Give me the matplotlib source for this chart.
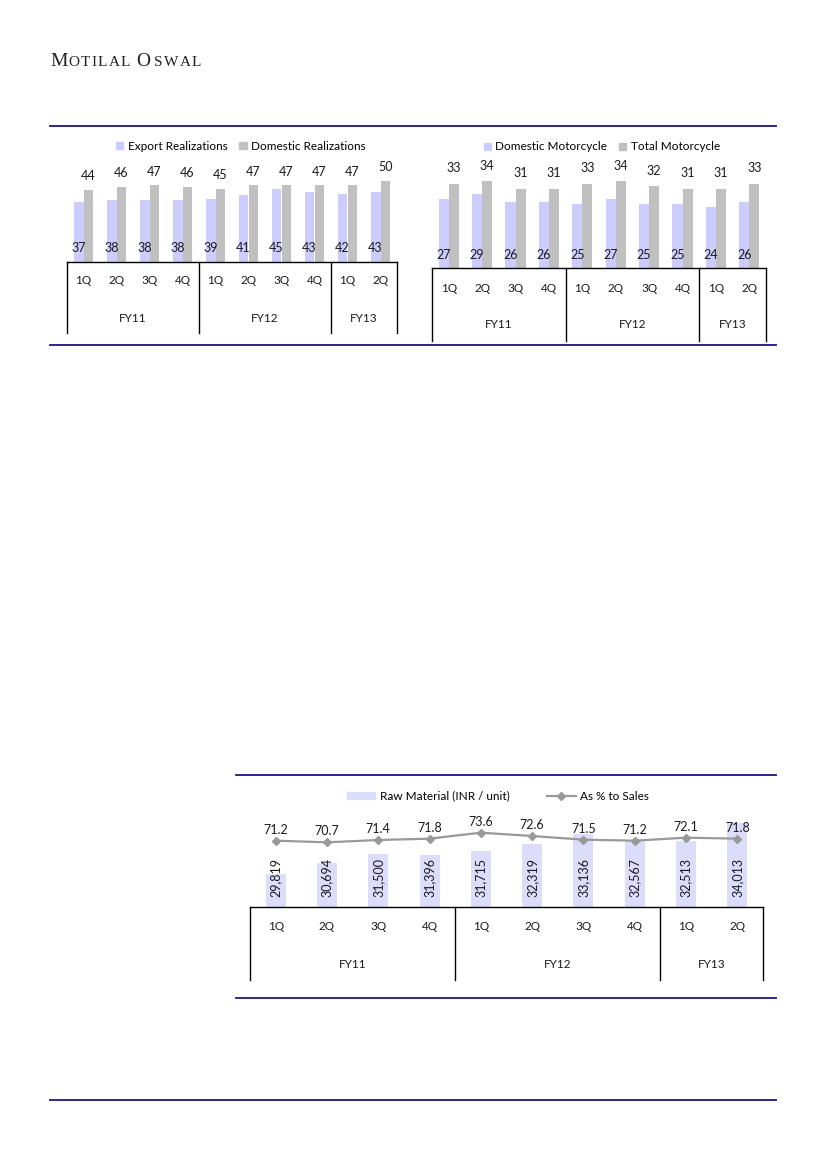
import matplotlib.pyplot as plt
from matplotlib.lines import Line2D
from matplotlib.patches import Patch

plt.rcParams['font.family'] = ['Lato', 'DejaVu Sans']

W, H = 826, 1169
NAVY = '#1c1480'
LAV = '#ccccff'
LAV3 = '#dcdcfb'
GRAY = '#c0c0c0'
TXT = '#1a1a1a'

quarters = ['1Q', '2Q', '3Q', '4Q', '1Q', '2Q', '3Q', '4Q', '1Q', '2Q']
years = ['FY11', 'FY12', 'FY13']
year_len = [4, 4, 2]

export_real = [37, 38, 38, 38, 39, 41, 45, 43, 42, 43]
domestic_real = [44, 46, 47, 46, 45, 47, 47, 47, 47, 50]

domestic_mc = [27, 29, 26, 26, 25, 27, 25, 25, 24, 26]
total_mc = [33, 34, 31, 31, 33, 34, 32, 31, 31, 33]

raw_material = [29819, 30694, 31500, 31396, 31715, 32319, 33136, 32567, 32513, 34013]
pct_sales = [71.2, 70.7, 71.4, 71.8, 73.6, 72.6, 71.5, 71.2, 72.1, 71.8]


def box(x0, y0, x1, y1):
    # pixel box (top-left origin) -> figure fraction rect
    return [x0 / W, 1 - y1 / H, (x1 - x0) / W, (y1 - y0) / H]


def hrule(y, x0, x1):
    fig.add_artist(Line2D([x0 / W, x1 / W], [1 - y / H, 1 - y / H], color=NAVY, lw=1.3))


def spaced(xpx, ypx, s, size, track):
    # letter-spaced text, measured char by char
    r = fig.canvas.get_renderer()
    for ch in s:
        t = fig.text(xpx / W, 1 - ypx / H, ch, fontsize=size, family='Liberation Serif',
                     color='#222', va='baseline')
        xpx += t.get_window_extent(r).width + track
    return xpx


def category_table(x0, x1, ybase, ybot, yq, yfy):
    ax = fig.add_axes(box(x0, ybase, x1, ybot))
    ax.set_xlim(-0.5, len(quarters) - 0.5)
    ax.set_ylim(ybot, ybase)
    ax.axis('off')
    ax.plot([-0.5, len(quarters) - 0.5], [ybase, ybase], color='black', lw=1, clip_on=False)
    start = -0.5
    ax.plot([start, start], [ybase, ybot], color='black', lw=1, clip_on=False)
    for yr, n in zip(years, year_len):
        ax.plot([start + n, start + n], [ybase, ybot], color='black', lw=1, clip_on=False)
        ax.text(start + n / 2, yfy, yr, ha='center', va='center', fontsize=8.5, color=TXT)
        start += n
    for i, q in enumerate(quarters):
        ax.text(i, yq, q, ha='center', va='center', fontsize=8.5, color=TXT)


fig = plt.figure(figsize=(W / 100, H / 100), dpi=100)

# header, small caps by hand
spaced(50.5, 66, 'M', 14, 0)
spaced(68.5, 66, 'OTILAL', 11, 1.3)
spaced(136, 66, 'O', 14, 0)
spaced(154, 66, 'SWAL', 11, 1.3)

hrule(126, 50, 776)
hrule(345, 50, 776)
hrule(775, 236, 776)
hrule(998, 236, 776)
hrule(1100, 50, 776)

x = list(range(len(quarters)))
bw = 0.3

# chart 1: realizations
ax1 = fig.add_axes(box(67, 135, 397, 262))
ax1.bar([i - bw / 2 for i in x], export_real, bw, color=LAV, label='Export Realizations')
ax1.bar([i + bw / 2 for i in x], domestic_real, bw, color=GRAY, label='Domestic Realizations')
ax1.set_xlim(-0.5, 9.5)
ax1.set_ylim(0, 78)
ax1.axis('off')
for i in x:
    ax1.annotate(str(export_real[i]), (i - bw / 2, 0), xytext=(0, 10), textcoords='offset points',
                 ha='center', va='center', fontsize=9, color=TXT)
    ax1.annotate(str(domestic_real[i]), (i + bw / 2, domestic_real[i]), xytext=(0, 10),
                 textcoords='offset points', ha='center', va='center', fontsize=9, color=TXT)
fig.legend(handles=[Patch(color=LAV, label='Export Realizations'),
                    Patch(color=GRAY, label='Domestic Realizations')],
           loc='center', bbox_to_anchor=(241 / W, 1 - 146 / H), ncol=2, frameon=False,
           fontsize=8.5, handlelength=0.6, handleheight=0.6, handletextpad=0.4, columnspacing=1.0)
category_table(67, 397, 262, 333, 281, 318)

# chart 2: motorcycle
ax2 = fig.add_axes(box(432, 135, 766, 268))
ax2.bar([i - bw / 2 for i in x], domestic_mc, bw, color=LAV, label='Domestic Motorcycle')
ax2.bar([i + bw / 2 for i in x], total_mc, bw, color=GRAY, label='Total Motorcycle')
ax2.set_xlim(-0.5, 9.5)
ax2.set_ylim(0, 52)
ax2.axis('off')
for i in x:
    ax2.annotate(str(domestic_mc[i]), (i - bw / 2, 0), xytext=(0, 9.5), textcoords='offset points',
                 ha='center', va='center', fontsize=9, color=TXT)
    ax2.annotate(str(total_mc[i]), (i + bw / 2, total_mc[i]), xytext=(0, 11),
                 textcoords='offset points', ha='center', va='center', fontsize=9, color=TXT)
fig.legend(handles=[Patch(color=LAV, label='Domestic Motorcycle'),
                    Patch(color=GRAY, label='Total Motorcycle')],
           loc='center', bbox_to_anchor=(602 / W, 1 - 147 / H), ncol=2, frameon=False,
           fontsize=8.5, handlelength=0.6, handleheight=0.6, handletextpad=0.4, columnspacing=1.0)
category_table(432, 766, 268, 341, 289, 324)

# chart 3: raw material
ax3 = fig.add_axes(box(250, 785, 763, 907))
ax3.bar(x, raw_material, 0.39, color=LAV3)
ax3.set_xlim(-0.5, 9.5)
ax3.set_ylim(27105, 37138)
ax3.axis('off')
for i in x:
    ax3.text(i, 0.24, f'{raw_material[i]:,}', transform=ax3.get_xaxis_transform(), rotation=90,
             ha='center', va='center', fontsize=9, color=TXT)
ax3b = ax3.twinx()
ax3b.plot(x, pct_sales, color='#999999', lw=1.6, marker='D', markersize=4)
ax3b.set_ylim(51.3, 87.9)
ax3b.axis('off')
for i in x:
    ax3b.annotate(f'{pct_sales[i]:.1f}', (i, pct_sales[i]), xytext=(0, 8), textcoords='offset points',
                  ha='center', va='center', fontsize=9, color=TXT)
fig.legend(handles=[Patch(color=LAV3, label='Raw Material (INR / unit)'),
                    Line2D([], [], color='#999999', lw=1.6, marker='D', markersize=4, label='As % to Sales')],
           loc='center', bbox_to_anchor=(498 / W, 1 - 796 / H), ncol=2, frameon=False,
           fontsize=8.5, handlelength=2.4, handleheight=0.6, handletextpad=0.4, columnspacing=3.2)
category_table(250, 763, 907, 980, 926, 965)

fig.savefig('out.png', dpi=100)
